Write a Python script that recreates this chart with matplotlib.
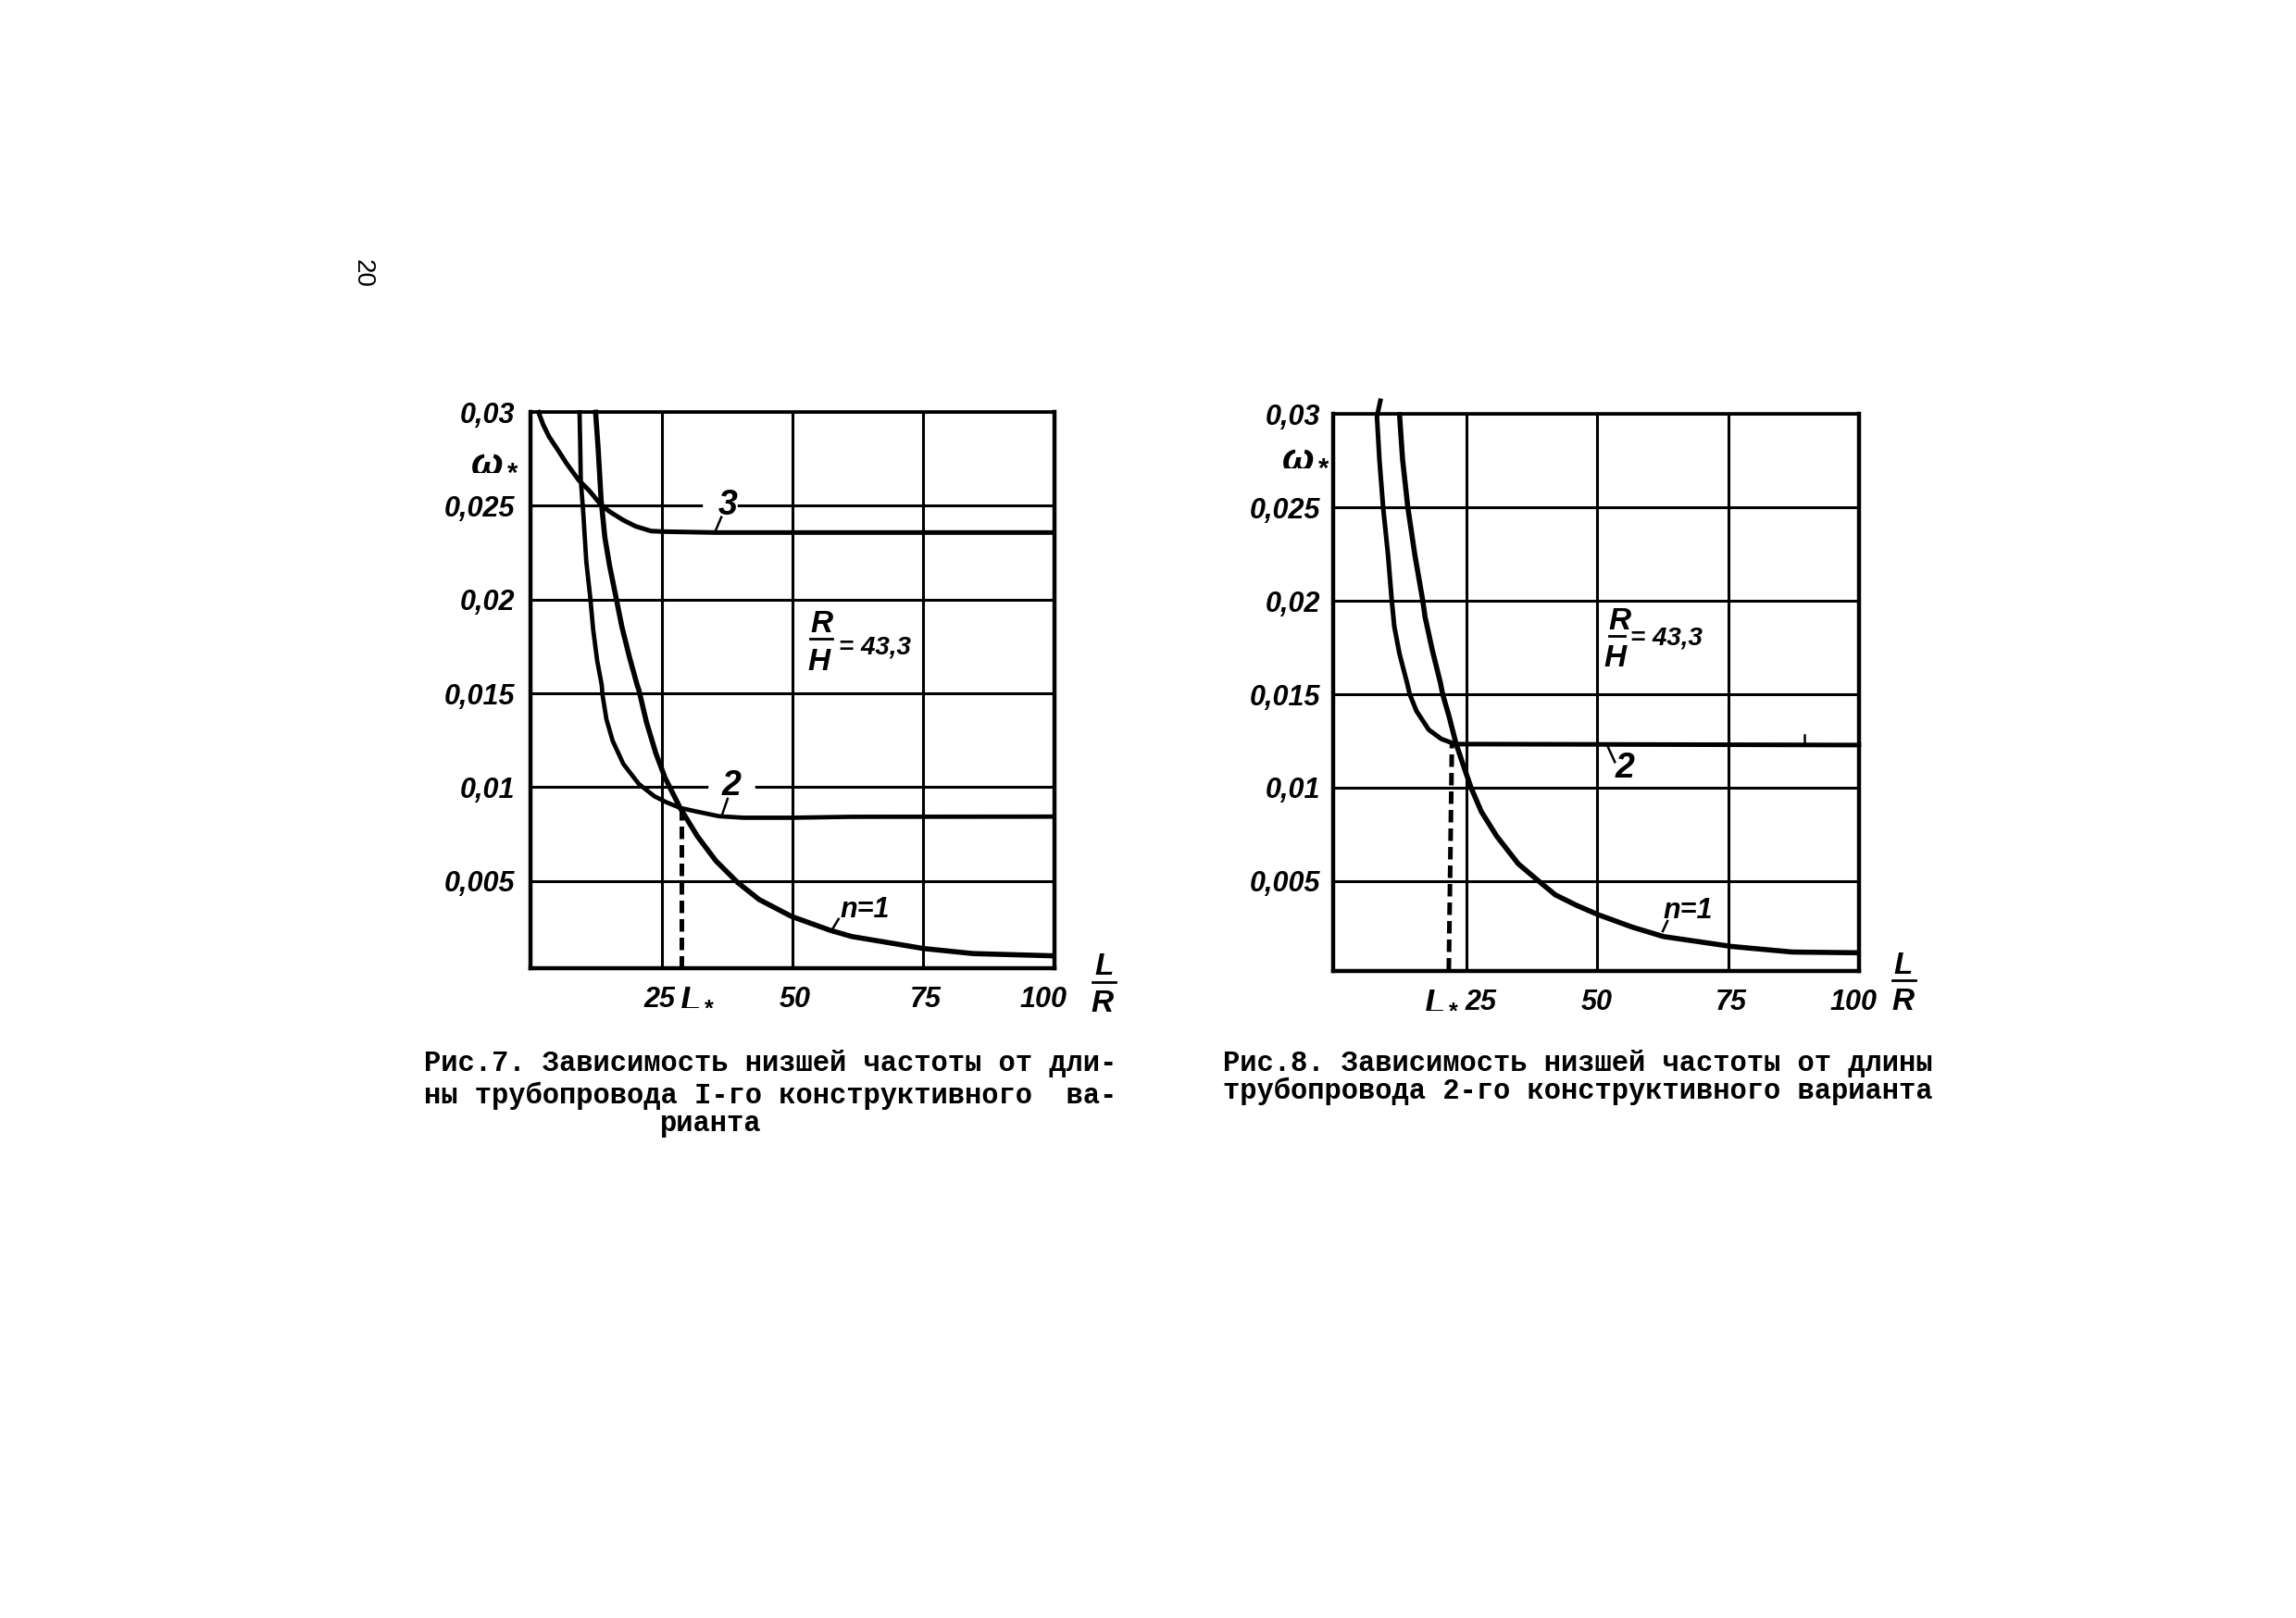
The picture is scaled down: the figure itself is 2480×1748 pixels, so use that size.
import matplotlib
matplotlib.use('Agg')
import matplotlib.pyplot as plt
from matplotlib.transforms import ScaledTranslation

W, H = 2480, 1748
label_font = ['Liberation Sans', 'DejaVu Sans']
caption_font = ['Liberation Mono', 'DejaVu Sans Mono']

plt.rcParams['mathtext.fontset'] = 'custom'
plt.rcParams['mathtext.it'] = 'Liberation Sans:italic:bold'
plt.rcParams['mathtext.rm'] = 'Liberation Sans:bold'

# Curves: (L/R, omega, line width)
left_curves = [
    ([1.47, 2.35, 3.52, 5.29, 6.78, 9.13, 11.2, 13.55, 15.3, 17.67, 20.05, 22.98, 25.35, 35.37,
      52.5, 99.9],
     [.02998, .02932, .02866, .02792, .02727, .02637, .02579, .0250, .02464, .02423, .0239,
      .02365, .02362, .02357, .02357, .02357], 3.6),
    ([9.31, 9.43, 9.54, 10.01, 10.6, 11.38, 11.91, 12.67, 13.55, 13.68, 14.44, 15.62, 17.67,
      20.63, 23.58, 25.94, 28.59, 31.83, 35.97, 40.68, 49.82, 61.32, 99.9],
     [.02998, .02826, .02637, .02464, .02201, .02003, .01839, .01675, .01543, .01494, .01362,
      .01248, .01124, .01017, .00952, .00919, .00889, .00869, .00845, .00837, .00837, .00842,
      .00843], 3.4),
    ([12.37, 12.85, 13.43, 14.14, 15.02, 16.21, 17.39, 18.86, 20.33, 20.63, 22.1, 23.87, 25.64,
      28.59, 31.83, 35.37, 39.51, 43.63, 49.82, 57.2, 61.32, 66.45, 75.03, 84.5, 99.8],
     [.02998, .02809, .0253, .02332, .02184, .0202, .01856, .01691, .01543, .01519, .01346,
      .01182, .0105, .00886, .00738, .00607, .00492, .00401, .00311, .00237, .00204, .0018,
      .0014, .00113, .00101], 4.0),
]
right_curves = [
    ([8.65, 8.0, 8.47, 9.18, 10.12, 10.82, 11.3, 12.31, 13.77, 14.25, 15.54, 17.88, 20.25, 22.9,
      27.9, 99.9],
     [.03071, .02987, .02756, .0250, .02244, .02004, .01864, .01715, .01558, .0150, .0141,
      .0131, .01261, .01233, .01233, .01228], 3.6),
    ([12.31, 12.89, 13.89, 15.24, 16.72, 17.18, 18.59, 20.13, 20.53, 21.72, 23.08, 24.66, 26.0,
      27.9, 30.84, 34.96, 38.79, 42.02, 46.13, 50.27, 56.73, 62.62, 75.56, 87.2, 99.75],
     [.02996, .02756, .0250, .02244, .02004, .01913, .01732, .01558, .0150, .01385, .01236,
      .01104, .00996, .00872, .0074, .00592, .00501, .00426, .00369, .00319, .00253, .00203,
      .0015, .0012, .00116], 4.0),
]

ytick_vals = [.005, .01, .015, .02, .025, .03]
ytick_labs = ['0,005', '0,01', '0,015', '0,02', '0,025', '0,03']


def make_panel(box, xlim, ylim, curves, dash_xs, dash_top, ypad, xshift):
    x0, y0, x1, y1 = box
    ax = fig.add_axes([x0 / W, 1 - y1 / H, (x1 - x0) / W, (y1 - y0) / H])
    ax.set_xlim(xlim)
    ax.set_ylim(ylim)
    ax.set_xticks([25, 50, 75, 100], ['25', '50', '75', '100'])
    ax.set_yticks(ytick_vals, ytick_labs)
    ax.grid(True, color='black', linewidth=2.2)
    ax.set_axisbelow(True)
    ax.tick_params(axis='both', length=0, labelsize=22)
    ax.tick_params(axis='y', pad=ypad)
    ax.tick_params(axis='x', pad=14)
    for lab in ax.get_xticklabels() + ax.get_yticklabels():
        lab.set_family(label_font)
        lab.set_style('italic')
        lab.set_weight('bold')
    # the hand lettered numbers do not sit exactly under their lines
    for lab, dx in zip(ax.get_xticklabels(), xshift):
        lab.set_transform(lab.get_transform() + ScaledTranslation(dx / 100, 0, fig.dpi_scale_trans))
    for spine in ax.spines.values():
        spine.set_linewidth(3.2)
    ax.spines['top'].set_linewidth(2.6)
    for xs, ys, lw in curves:
        ax.plot(xs, ys, color='black', linewidth=lw, clip_on=False)
    ax.plot(dash_xs, [ylim[0], dash_top], color='black', linewidth=3.6,
            linestyle=(0, (2.7, 1.3)))
    return ax


def put(ax, x, y, s, size=24, ha='center'):
    ax.text(x, y, s, fontsize=size, ha=ha, va='center', family=label_font, style='italic',
            weight='bold', clip_on=False)


def leader(ax, xs, ys):
    ax.plot(xs, ys, color='black', linewidth=1.8, clip_on=False)


def bar(ax, xs, y):
    ax.plot(xs, [y, y], color='black', linewidth=2, clip_on=False)


def gap(ax, xs, y):
    # curve numbers interrupt the grid line
    ax.plot(xs, [y, y], color='white', linewidth=4, zorder=1)


fig = plt.figure(figsize=(W / 100, H / 100), dpi=100, facecolor='white')

# Fig. 7
ax1 = make_panel((573.4, 445, 1138.6, 1046), (0, 100), (.00035, .03), left_curves, [28.77, 28.77],
                 .00886, 12, [-2, 2.5, 3, -11.5])
gap(ax1, [33.3, 39.0], .025)
gap(ax1, [34.4, 42.4], .01)
put(ax1, 37.7, .025, '3', 27)
put(ax1, 38.3, .01005, '2', 27)
put(ax1, 63.8, .00345, 'n=1', 22)
leader(ax1, [35.3, 36.4], [.02367, .02439])
leader(ax1, [36.55, 37.6], [.00853, .00938])
leader(ax1, [57.5, 58.8], [.00237, .00297])
put(ax1, 55.6, .0187, 'R', 24)
put(ax1, 55.0, .01667, 'H', 24)
bar(ax1, [53.4, 57.6], .0179)
put(ax1, 58.8, .01746, '= 43,3', 20, ha='left')
put(ax1, -6.8, .02742, r'$\omega_*$', 30)
put(ax1, 31.8, -.00115, r'$L_*$', 26)
put(ax1, 109.5, .0004, 'L', 24)
bar(ax1, [107.3, 111.8], -.0004)
put(ax1, 109.1, -.00153, 'R', 24)

# Fig. 8
ax2 = make_panel((1440, 447.3, 2008.4, 1048.5), (-.35, 100), (.00021, .03), right_curves,
                 [21.7, 22.3], .01233, 10, [16, 0, 3, -6])
put(ax2, 55.26, .01104, '2', 27)
put(ax2, 67.3, .0034, 'n=1', 22)
leader(ax2, [52.03, 53.37], [.01219, .01137])
leader(ax2, [62.5, 63.4], [.00231, .00286])
leader(ax2, [89.5, 89.5], [.01233, .0128])
put(ax2, 54.2, .01888, 'R', 24)
put(ax2, 53.4, .0169, 'H', 24)
bar(ax2, [52.3, 55.3], .01813)
put(ax2, 56.3, .01798, '= 43,3', 20, ha='left')
put(ax2, -5.6, .02779, r'$\omega_*$', 30)
put(ax2, 20.4, -.00135, r'$L_*$', 26)
put(ax2, 108.4, .00048, 'L', 24)
bar(ax2, [106.2, 110.7], -.0003)
put(ax2, 108.3, -.00145, 'R', 24)

# Captions, typed in monospace
captions = [
    (457.5, 1149, 'Рис.7. Зависимость низшей частоты от дли-'),
    (457.5, 1184, 'ны трубопровода I-го конструктивного  ва-'),
    (713, 1214, 'рианта'),
    (1320.7, 1149, 'Рис.8. Зависимость низшей частоты от длины'),
    (1320.7, 1179, 'трубопровода 2-го конструктивного варианта'),
]
for x, y, s in captions:
    fig.text(x / W, 1 - y / H, s, fontsize=22, family=caption_font, weight='bold',
             ha='left', va='center')

# page number, sideways in the margin
fig.text(392 / W, 1 - 295 / H, '20', fontsize=20, rotation=-90, family=label_font,
         ha='center', va='center')

fig.savefig('out.png', dpi=100)
